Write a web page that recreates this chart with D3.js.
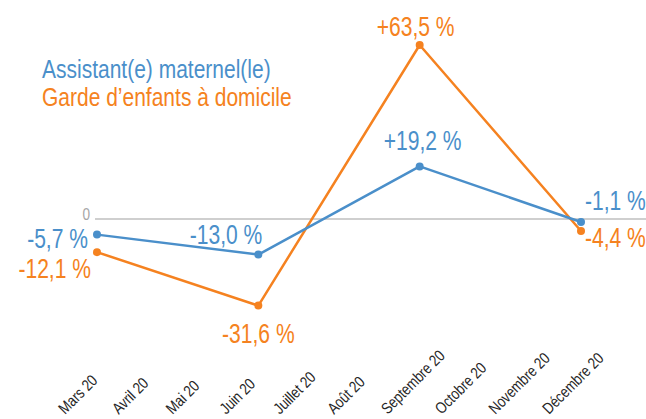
<!DOCTYPE html>
<html>
<head>
<meta charset="utf-8">
<script src="https://cdn.jsdelivr.net/npm/d3@7"></script>
<style>
  body { margin: 0; background: #fff; }
  svg { display: block; }
</style>
</head>
<body>
<div id="chart"></div>
<script>
// Data
var months = ["Mars 20", "Avril 20", "Mai 20", "Juin 20", "Juillet 20", "Août 20",
    "Septembre 20", "Octobre 20", "Novembre 20", "Décembre 20"];
var assistantMonths = ["Mars 20", "Juin 20", "Septembre 20", "Décembre 20"];
var assistantValues = [-5.7, -13.0, 19.2, -1.1];
var gardeMonths = ["Mars 20", "Juin 20", "Septembre 20", "Décembre 20"];
var gardeValues = [-12.1, -31.6, 63.5, -4.4];
var seriesNames = ["Assistant(e) maternel(le)", "Garde d\u2019enfants à domicile"];

var blue = "#4a8fca", orange = "#f58220";
var width = 646, height = 419;
// no narrow font installed, so squeeze Liberation Sans horizontally
var font = "'Liberation Sans', Arial, sans-serif";
var narrow = 0.78;

var svg = d3.select("#chart")
    .append("svg")
    .attr("width", width)
    .attr("height", height);

var x = d3.scalePoint()
    .domain(months)
    .range([97, 581]);

var y = d3.scaleLinear()
    .domain([-40, 70])
    .range([328.6, 27.2]);

function fmt(v) {
    var s = d3.format(".1f")(Math.abs(v)).replace(".", ",");
    return (v > 0 ? "+" : "-") + s + " %";
}

// Zero line
svg.append("line")
    .attr("x1", x(months[0]) - 2)
    .attr("x2", width)
    .attr("y1", y(0))
    .attr("y2", y(0))
    .attr("stroke", "#bfbfbf")
    .attr("stroke-width", 1.5);

svg.append("text")
    .attr("transform", `translate(${x(months[0]) - 7},${y(0) + 1}) scale(0.85,1)`)
    .attr("text-anchor", "end")
    .attr("font-family", font)
    .attr("font-size", 16)
    .attr("fill", "#a6a6a6")
    .text("0");

// X axis labels (rotated)
svg.append("g")
    .selectAll("text")
    .data(months)
    .join("text")
    .attr("transform", d => `translate(${x(d) - 32},415) rotate(-45) scale(0.82,1)`)
    .attr("text-anchor", "start")
    .attr("font-family", font)
    .attr("font-size", 16)
    .attr("fill", "#262626")
    .text(d => d);

// label placement: [dx, dy, anchor] relative to each point
var assistantLabelPos = [[-9, 13, "end"], [4, -11, "end"], [3, -16, "middle"], [4, -12, "start"]];
var gardeLabelPos = [[-6, 26, "end"], [0, 37, "middle"], [-4, -9, "middle"], [4, 16, "start"]];

function drawSeries(cats, vals, color, pos) {
    var data = cats.map((c, i) => ({month: c, value: vals[i], pos: pos[i]}));

    var line = d3.line()
        .x(d => x(d.month))
        .y(d => y(d.value));

    svg.append("path")
        .datum(data)
        .attr("fill", "none")
        .attr("stroke", color)
        .attr("stroke-width", 2.5)
        .attr("stroke-linejoin", "round")
        .attr("d", line);

    svg.append("g")
        .selectAll("circle")
        .data(data)
        .join("circle")
        .attr("cx", d => x(d.month))
        .attr("cy", d => y(d.value))
        .attr("r", 4)
        .attr("fill", color);

    svg.append("g")
        .selectAll("text")
        .data(data)
        .join("text")
        .attr("transform", d => `translate(${x(d.month) + d.pos[0]},${y(d.value) + d.pos[1]}) scale(${narrow},1)`)
        .attr("text-anchor", d => d.pos[2])
        .attr("font-family", font)
        .attr("font-size", 27)
        .attr("fill", color)
        .text(d => fmt(d.value));
}

drawSeries(gardeMonths, gardeValues, orange, gardeLabelPos);
drawSeries(assistantMonths, assistantValues, blue, assistantLabelPos);

// Legend
svg.append("g")
    .selectAll("text")
    .data(seriesNames)
    .join("text")
    .attr("transform", (d, i) => `translate(42,${78 + i * 28}) scale(0.84,1)`)
    .attr("font-family", font)
    .attr("font-size", 25)
    .attr("fill", (d, i) => i === 0 ? blue : orange)
    .text(d => d);
</script>
</body>
</html>
